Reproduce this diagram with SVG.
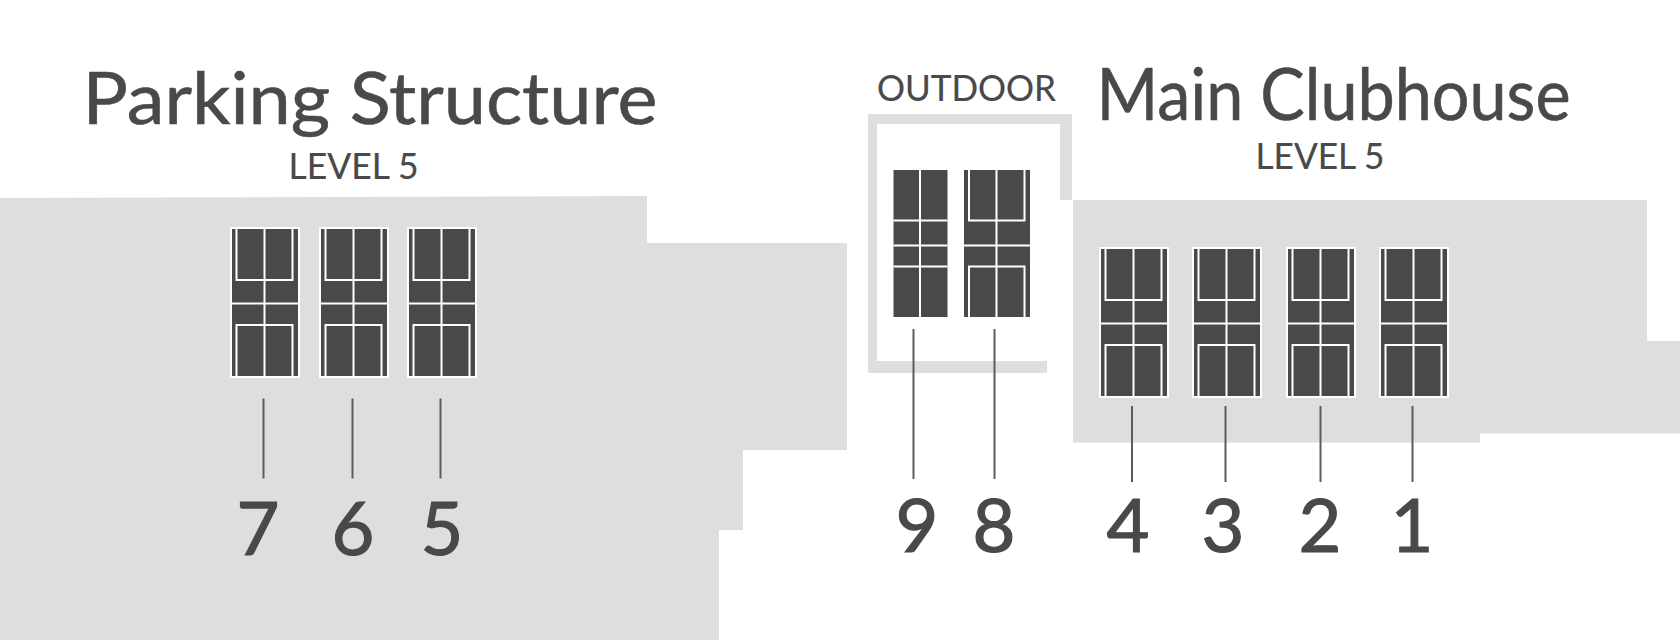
<svg xmlns="http://www.w3.org/2000/svg" width="1680" height="640" viewBox="0 0 1680 640">
<style>
text{font-family:"Lato","Open Sans","Liberation Sans",sans-serif;fill:#494949;stroke:#494949;text-anchor:middle}
.t{font-size:72px;stroke-width:.6px}.s{font-size:36px;stroke-width:.2px}.n{font-size:74px;stroke-width:1.2px}
.g{fill:#dedede}.d{fill:#494949}
.l{stroke:#fff;stroke-width:2;fill:none}
.c{stroke:#5c5c5c;stroke-width:2;fill:none}
</style>
<defs>
<g id="court">
<rect width="70" height="151" fill="#fff"/>
<rect x="2" y="2" width="66" height="147" class="d"/>
<path class="l" d="M6.500 2V53H62.500V2M6.500 149V98H62.500V149M2 76.500H68M34.500 2V149"/>
</g>
</defs>
<g id="floors">
<path class="g" d="M0 198L647 196V243H847V450H743V530H719V640H0Z"/>
<path class="g" d="M1073 200H1647V341H1680V433.500H1480V442.500H1073Z"/>
<path class="g" d="M868 114H1072V200H1060V124H877V361H1047V373H868Z"/>
</g>
<g id="titles">
<text class="t" x="370" y="124" textLength="575" lengthAdjust="spacingAndGlyphs">Parking Structure</text>
<text class="s" x="353.500" y="179" textLength="130" lengthAdjust="spacingAndGlyphs">LEVEL 5</text>
<text class="s" x="966.500" y="101" textLength="179" lengthAdjust="spacingAndGlyphs">OUTDOOR</text>
<text class="t" x="1333.500" y="120" textLength="474" lengthAdjust="spacingAndGlyphs">Main Clubhouse</text>
<text class="s" x="1320" y="169" textLength="129" lengthAdjust="spacingAndGlyphs">LEVEL 5</text>
</g>
<g id="court-7"><use href="#court" x="230" y="227"/></g>
<g id="court-6"><use href="#court" x="319" y="227"/></g>
<g id="court-5"><use href="#court" x="407" y="227"/></g>
<g id="court-4"><use href="#court" x="1099" y="247"/></g>
<g id="court-3"><use href="#court" x="1192" y="247"/></g>
<g id="court-2"><use href="#court" x="1286" y="247"/></g>
<g id="court-1"><use href="#court" x="1379" y="247"/></g>
<g id="court-9">
<rect x="893.500" y="170" width="54" height="147" class="d"/>
<path class="l" d="M893.500 220.500H947.500M893.500 245.500H947.500M893.500 266.500H947.500M920 170V317"/>
</g>
<g id="court-8">
<rect x="964" y="170" width="66" height="147" class="d"/>
<path class="l" d="M969 170V220.500H1024.500V170M969 317V266.500H1024.500V317M964 245.500H1030M996.500 170V317"/>
</g>
<g id="connectors">
<path class="c" d="M263.500 398.500V478.500M352.500 398.500V478.500M440.500 398.500V478.500M913.500 329V479M994.500 329V479M1132 406V482M1225.500 406V482M1320.500 406V482M1412.500 406V482"/>
</g>
<g id="labels">
<text class="n" x="258" y="555">7</text>
<text class="n" x="353" y="555">6</text>
<text class="n" x="442" y="555">5</text>
<text class="n" x="917" y="552">9</text>
<text class="n" x="994" y="552">8</text>
<text class="n" x="1128" y="552">4</text>
<text class="n" x="1223" y="552">3</text>
<text class="n" x="1320" y="552">2</text>
<text class="n" x="1412" y="552">1</text>
</g>
</svg>
